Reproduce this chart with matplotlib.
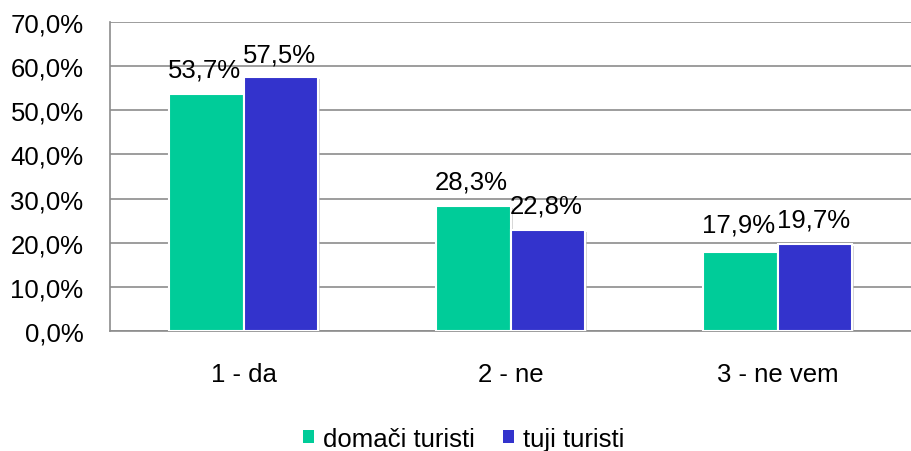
import matplotlib
matplotlib.use("Agg")
import matplotlib.pyplot as plt
import matplotlib.patheffects as pe
from matplotlib.patches import Patch
import numpy as np

categories = ["1 - da", "2 - ne", "3 - ne vem"]
domaci = [53.7, 28.3, 17.9]
tuji = [57.5, 22.8, 19.7]
series_names = ["domači turisti", "tuji turisti"]
yticks = [0, 10, 20, 30, 40, 50, 60, 70]

# label vertical offsets (points), style only
dy_domaci = [9, 9, 11]
dy_tuji = [8, 9, 9]

plt.rcParams['font.family'] = ['Liberation Sans', 'DejaVu Sans']
FS = 18.5
c1, c2 = '#00CC99', '#3333CC'

fig = plt.figure(figsize=(9.11, 4.52), dpi=100)
ax = fig.add_axes([110/911, 120/452, 801/911, 309/452])

x = np.arange(len(categories))
w = 0.28
shadow = [pe.SimplePatchShadow(offset=(1.5, -1.5), shadow_rgbFace='#bbbbbb', alpha=0.6), pe.Normal()]
b1 = ax.bar(x - w/2, domaci, w, color=c1, edgecolor='white', linewidth=1.5,
            zorder=3, path_effects=shadow)
b2 = ax.bar(x + w/2, tuji, w, color=c2, edgecolor='white', linewidth=1.5,
            zorder=3, path_effects=shadow)

for bars, vals, dys in ((b1, domaci, dy_domaci), (b2, tuji, dy_tuji)):
    for r, v, d in zip(bars, vals, dys):
        ax.annotate(f"{v:.1f}%".replace('.', ','), (r.get_x() + r.get_width()/2, v),
                    xytext=(-1, d), textcoords='offset points', ha='center', va='bottom',
                    fontsize=FS, color='black', zorder=4)

ax.set_xlim(-0.5, 2.5)
ax.set_ylim(0, 70)
ax.set_yticks(yticks)
ax.set_yticklabels([f"{t:.1f}%".replace('.', ',') for t in yticks], fontsize=FS)
ax.set_xticks(x)
ax.set_xticklabels(categories, fontsize=FS)
ax.tick_params(axis='y', length=0, pad=19)
ax.tick_params(axis='x', length=0, pad=22)
ax.grid(axis='y', color='#8c8c8c', linewidth=1.2, zorder=0)
ax.set_axisbelow(True)
for s in ['top', 'right']:
    ax.spines[s].set_visible(False)
for s in ['left', 'bottom']:
    ax.spines[s].set_color('#8c8c8c')
    ax.spines[s].set_linewidth(1.2)

handles = [Patch(facecolor=c1, edgecolor='none'), Patch(facecolor=c2, edgecolor='none')]
fig.legend(handles=handles, labels=series_names, loc='center',
           bbox_to_anchor=(0.5086, 1 - 440/452), ncol=2, frameon=False, fontsize=FS,
           handlelength=0.42, handleheight=0.42, handletextpad=0.35, columnspacing=1.1,
           borderpad=0)

fig.savefig("out.png", dpi=100)
